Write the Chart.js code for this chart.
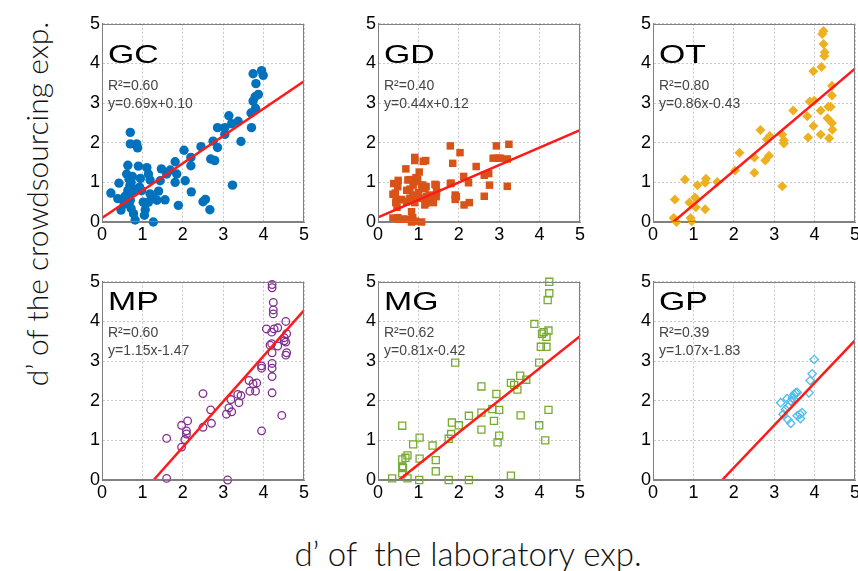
<!DOCTYPE html>
<html>
<head>
<meta charset="utf-8">
<script src="https://cdn.jsdelivr.net/npm/chart.js@4.4.1/dist/chart.umd.min.js"></script>
<style>
  html, body { margin: 0; padding: 0; background: #fff; }
  #page { position: relative; width: 858px; height: 571px; overflow: hidden; }
  .panel { position: absolute; }
  .axis-title {
    position: absolute; white-space: pre; color: #111;
    font-family: Lato, "Liberation Sans", Arial, sans-serif; font-weight: 300;
    transform: translate(-50%, -50%);
  }
  #ylab { left: 36px; top: 204px; font-size: 30px; transform: translate(-50%, -50%) rotate(-90deg); }
  #xlab { left: 468px; top: 553px; font-size: 33px; }
</style>
</head>
<body>
<div id="page">
  <div class="axis-title" id="ylab">d’ of the crowdsourcing exp.</div>
  <div class="axis-title" id="xlab">d’ of  the laboratory exp.</div>
</div>
<script>
// tick labels shared by both axes of every panel
const tickValues = [0, 1, 2, 3, 4, 5];

const panelNames = ['GC', 'GD', 'OT', 'MP', 'MG', 'GP'];
const r2Values = ['0.60', '0.40', '0.80', '0.60', '0.62', '0.39'];
const slopes = [0.69, 0.44, 0.86, 1.15, 0.81, 1.07];
const intercepts = [0.10, 0.12, -0.43, -1.47, -0.42, -1.83];

// [d' laboratory, d' crowdsourcing]
const gcPoints = [
  [0.22,0.73],[0.39,0.59],[0.42,0.98],[0.47,0.30],[0.55,0.45],[0.59,0.59],[0.61,1.21],[0.64,1.43],
  [0.64,0.79],[0.67,1.08],[0.67,0.48],[0.69,0.92],[0.70,2.26],[0.70,1.97],[0.72,0.34],[0.74,0.75],
  [0.75,1.15],[0.78,0.21],[0.80,0.83],[0.82,0.05],[0.86,1.97],[0.88,1.87],[0.90,1.41],[0.93,0.88],
  [0.98,0.79],[1.02,0.50],[1.05,0.17],[1.07,0.31],[1.11,1.37],[1.15,1.21],[1.15,0.50],[1.19,1.06],
  [1.19,0.71],[1.27,0.61],[1.27,0.00],[1.36,0.55],[1.40,0.78],[1.44,1.04],[1.47,1.34],[1.56,0.56],
  [1.60,1.21],[1.69,1.31],[1.81,1.52],[1.85,1.21],[1.81,1.00],[1.89,0.42],[2.06,1.04],[2.03,1.81],
  [2.20,1.63],[2.20,1.42],[2.21,0.76],[2.45,1.90],[2.50,0.51],[2.56,0.57],[2.67,0.31],[2.69,1.59],
  [2.79,1.55],[2.75,2.04],[2.86,1.88],[2.86,2.38],[3.04,2.38],[3.04,2.21],[3.14,2.68],[3.21,2.48],
  [3.23,0.93],[3.37,2.54],[3.44,2.03],[3.70,2.38],[3.69,2.75],[3.74,3.05],[3.79,3.16],[3.87,3.22],
  [3.81,3.49],[3.74,3.74],[3.95,3.82],[3.99,3.70],[3.80,2.87],[0.57,0.65],[0.70,0.55],[0.72,1.00],
  [0.95,1.10]
];
const gdPoints = [
  [0.39,0.97],[0.50,1.05],[0.37,0.70],[0.44,0.49],[0.47,0.37],[0.58,0.57],[0.71,0.80],[0.69,1.34],
  [0.79,1.07],[0.87,0.93],[0.91,1.55],[0.91,1.63],[0.94,1.12],[1.02,1.26],[1.12,1.53],[1.00,0.74],
  [1.08,0.93],[1.16,0.84],[0.87,0.68],[0.79,0.60],[0.91,0.49],[0.83,0.26],[0.37,0.10],[0.50,0.07],
  [0.62,0.07],[0.75,0.07],[0.83,0.00],[1.08,0.00],[1.20,0.64],[1.29,0.51],[1.37,0.49],[1.41,0.95],
  [1.45,0.76],[1.16,0.43],[1.02,0.60],[0.71,0.51],[1.79,1.92],[1.79,0.97],[1.85,1.48],[1.91,0.68],
  [1.91,0.57],[2.03,1.75],[2.12,1.15],[2.13,0.43],[2.26,0.49],[2.24,0.99],[2.43,1.40],[2.63,1.18],
  [2.74,1.22],[2.76,0.93],[2.63,0.65],[2.85,1.61],[2.93,1.92],[2.96,1.61],[3.03,1.61],[3.20,1.59],
  [3.20,0.90],[3.24,1.96],[0.49,0.89],[0.43,0.73],[0.45,0.56],[0.57,0.56],[0.74,1.06],[0.79,0.83],
  [0.90,1.02],[0.98,1.07],[1.11,0.93],[1.19,0.89],[0.86,0.60],[0.78,0.56],[1.27,0.68],[1.19,0.48],
  [1.44,0.93],[1.44,0.64],[1.81,0.98],[1.94,0.64],[0.49,0.11],[0.61,0.07],[0.86,0.11],[0.93,0.02],
  [1.18,1.55]
];
const otPoints = [
  [0.54,0.57],[0.51,0.10],[0.58,0.00],[0.79,1.07],[0.90,0.49],[0.93,0.10],[0.96,0.02],[1.04,0.62],
  [1.06,0.37],[1.10,0.93],[1.29,0.32],[1.31,1.09],[1.29,0.99],[1.59,1.01],[2.03,1.30],[2.14,1.75],
  [2.51,1.63],[2.51,1.24],[2.66,2.32],[2.78,1.55],[2.87,1.67],[2.82,2.09],[2.89,2.17],[3.20,0.90],
  [3.20,2.21],[3.24,2.06],[3.24,1.98],[3.47,2.81],[3.82,2.67],[3.84,2.13],[3.88,3.04],[3.99,3.06],
  [3.97,2.42],[3.97,3.80],[4.17,3.91],[4.15,2.81],[4.15,2.21],[4.22,4.82],[4.19,4.74],[4.22,4.49],
  [4.25,4.28],[4.24,4.19],[4.32,2.62],[4.34,2.91],[4.40,2.91],[4.36,2.11],[4.43,3.44],[4.43,3.19],
  [4.43,2.50],[4.44,2.33]
];
const mpPoints = [
  [1.60,1.05],[1.60,0.04],[1.97,1.38],[1.97,0.83],[2.05,1.02],[2.09,1.16],[2.09,1.24],[2.12,1.49],
  [2.50,2.18],[2.50,1.33],[2.69,1.77],[2.71,1.43],[3.08,1.66],[3.11,0.00],[3.14,1.82],[3.19,2.03],
  [3.21,1.72],[3.36,2.16],[3.39,1.95],[3.44,2.13],[3.64,2.51],[3.66,2.24],[3.74,2.43],[3.80,2.24],
  [3.83,2.45],[3.95,2.88],[3.95,2.82],[3.95,1.24],[4.07,3.81],[4.16,3.40],[4.20,3.73],[4.21,4.93],
  [4.21,4.85],[4.24,4.48],[4.24,4.29],[4.24,4.19],[4.20,3.44],[4.21,3.21],[4.21,2.94],[4.21,2.82],
  [4.21,2.61],[4.21,2.20],[4.26,3.81],[4.35,3.84],[4.35,3.38],[4.45,1.63],[4.51,3.59],[4.55,4.00],
  [4.55,3.48],[4.55,3.15],[4.57,3.21],[4.57,3.69],[4.51,3.51]
];
const mgPoints = [
  [0.35,0.04],[0.60,1.37],[0.60,0.52],[0.60,0.33],[0.62,0.30],[0.60,0.17],[0.68,0.56],[0.73,0.62],
  [0.73,0.04],[0.87,0.90],[1.02,0.00],[1.03,1.07],[1.03,0.54],[1.35,0.87],[1.43,0.50],[1.43,0.22],
  [1.75,1.04],[1.75,0.00],[1.81,1.16],[1.83,1.45],[1.91,2.96],[2.00,1.38],[2.25,1.62],[2.25,0.00],
  [2.56,2.36],[2.56,1.70],[2.56,1.27],[2.83,1.79],[2.87,1.49],[2.93,2.17],[2.96,0.95],[3.00,1.12],
  [3.00,1.77],[3.29,2.45],[3.29,0.11],[3.37,2.40],[3.45,2.28],[3.52,2.63],[3.53,1.63],[3.67,2.53],
  [3.87,3.94],[3.99,2.96],[3.99,1.38],[4.03,3.36],[4.06,3.69],[4.10,3.73],[4.14,1.00],[4.17,3.36],
  [4.17,3.61],[4.20,4.54],[4.22,3.77],[4.22,1.77],[4.24,4.71],[4.24,5.00]
];
const gpPoints = [
  [3.16,1.95],[3.22,1.66],[3.32,2.05],[3.34,1.85],[3.34,1.52],[3.41,1.43],[3.41,1.99],[3.45,2.07],
  [3.49,2.16],[3.53,2.20],[3.57,2.21],[3.49,2.03],[3.57,1.62],[3.64,1.66],[3.65,1.55],[3.69,1.70],
  [3.86,2.20],[3.89,2.51],[3.94,2.68],[3.99,3.04],[3.28,1.78]
];
const allPoints = [gcPoints, gdPoints, otPoints, mpPoints, mgPoints, gpPoints];

// marker look per panel (MATLAB default colours)
const panelStyles = [
  { color: '#0072BD', shape: 'circle',  radius: 4.7, fill: true },
  { color: '#D95319', shape: 'rect',    radius: 5.3, fill: true },
  { color: '#EDB120', shape: 'rectRot', radius: 5,   fill: true },
  { color: '#7E2F8E', shape: 'circle',  radius: 3.8, fill: false },
  { color: '#77AC30', shape: 'rect',    radius: 5,   fill: false },
  { color: '#4DBEEE', shape: 'rectRot', radius: 4.2, fill: false }
];

// plot-area placement on the page
const areaLeft = [102, 378, 653];
const areaTop = [21, 279];
const nameY = [39, 28], r2Y = [66, 55], eqY = [84, 73];

const font = '"Liberation Sans", Arial, sans-serif';

const panelText = {
  id: 'panelText',
  afterDraw(chart, args, o) {
    const { ctx, chartArea: a } = chart;
    ctx.save();
    ctx.strokeStyle = '#808080';
    ctx.lineWidth = 1;
    ctx.strokeRect(Math.round(a.left) + 0.5, Math.round(a.top) + 0.5,
                   Math.round(a.width) - 1, Math.round(a.height) - 1);
    ctx.fillStyle = '#000';
    ctx.font = '26px ' + font;
    ctx.save();
    ctx.translate(a.left + 6, a.top + o.nameY);
    ctx.scale(1.3, 1);
    ctx.fillText(o.name, 0, 0);
    ctx.restore();
    ctx.fillStyle = '#454545';
    ctx.font = '14px ' + font;
    ctx.fillText('R²=' + o.r2, a.left + 6, a.top + o.r2Y);
    ctx.fillText(o.eq, a.left + 6, a.top + o.eqY);
    ctx.restore();
  }
};

function axisOptions(isX) {
  return {
    type: 'linear', min: 0, max: 5,
    afterBuildTicks: s => { s.ticks = tickValues.map(v => ({ value: v })); },
    ticks: { font: { family: font, size: 18 }, color: '#000', padding: 2, maxRotation: 0, autoSkip: false },
    grid: { color: '#c8c8c8', lineWidth: 1, drawTicks: false },
    border: { display: true, color: '#808080', width: 1, dash: [2, 2] },
    afterFit: s => { if (isX) s.height = 24; else s.width = 24; }
  };
}

const page = document.getElementById('page');

allPoints.forEach((points, i) => {
  const row = Math.floor(i / 3), col = i % 3;
  const canvas = document.createElement('canvas');
  canvas.width = 236;
  canvas.height = 235;
  canvas.className = 'panel';
  canvas.style.left = (areaLeft[col] - 24) + 'px';
  canvas.style.top = (areaTop[row] - 10) + 'px';
  page.appendChild(canvas);

  const m = slopes[i], b = intercepts[i];
  const x0 = Math.max(0, -b / m);
  const st = panelStyles[i];
  const eq = 'y=' + m.toFixed(2) + 'x' + (b < 0 ? '-' : '+') + Math.abs(b).toFixed(2);

  new Chart(canvas, {
    type: 'scatter',
    data: {
      datasets: [
        {
          type: 'line',
          data: [{ x: x0, y: m * x0 + b }, { x: 5, y: m * 5 + b }],
          borderColor: '#ff1a1a', borderWidth: 2.5, pointRadius: 0, order: 0
        },
        {
          data: points.map(p => ({ x: p[0], y: p[1] })),
          pointStyle: st.shape, pointRadius: st.radius,
          backgroundColor: st.fill ? st.color : 'rgba(0,0,0,0)',
          borderColor: st.color, borderWidth: st.fill ? 0 : 1.3,
          clip: false, order: 1
        }
      ]
    },
    options: {
      responsive: false,
      animation: false,
      layout: { padding: { left: 0, top: 10, right: 10, bottom: 0 } },
      plugins: {
        legend: { display: false },
        tooltip: { enabled: false },
        panelText: { name: panelNames[i], r2: r2Values[i], eq: eq,
                     nameY: nameY[row], r2Y: r2Y[row], eqY: eqY[row] }
      },
      scales: { x: axisOptions(true), y: axisOptions(false) }
    },
    plugins: [panelText]
  });
});
</script>
</body>
</html>
